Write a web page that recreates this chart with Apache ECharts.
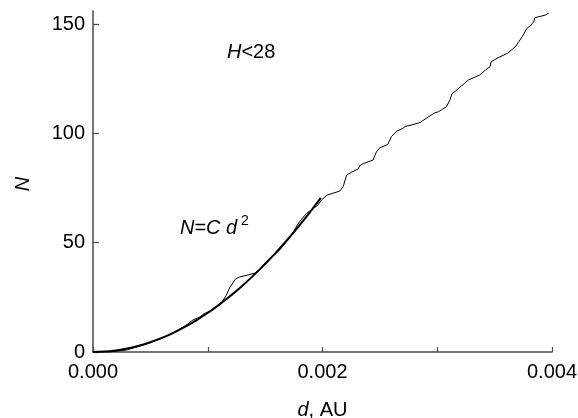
<!DOCTYPE html>
<html>
<head>
<meta charset="utf-8">
<script src="https://cdn.jsdelivr.net/npm/echarts@6/dist/echarts.min.js"></script>
<style>
  html, body { margin: 0; padding: 0; background: #fff; }
  #chart { width: 578px; height: 418px; }
</style>
</head>
<body>
<div id="chart"></div>
<script>
// distances d in units of 10^-3 AU
const obsD = [0, 0.15, 0.29, 0.45, 0.6, 0.72, 0.81, 0.87, 0.93, 0.97, 1.02, 1.07, 1.12, 1.16, 1.19, 1.24, 1.28, 1.35, 1.41, 1.45,
  1.51, 1.57, 1.63, 1.66, 1.72, 1.78, 1.80, 1.86, 1.92, 1.96, 1.99, 2.04, 2.05, 2.15, 2.18, 2.21, 2.25, 2.31, 2.33, 2.36,
  2.44, 2.47, 2.50, 2.57, 2.60, 2.65, 2.70, 2.72, 2.78, 2.85, 2.97, 3.01, 3.08, 3.11, 3.13, 3.16, 3.20, 3.27, 3.37, 3.42,
  3.46, 3.47, 3.53, 3.61, 3.68, 3.71, 3.74, 3.78, 3.81, 3.84, 3.85, 3.94, 3.97]
const obsN = [0, 0.1, 0.9, 3.4, 6.3, 9.4, 12.2, 14.6, 16.0, 17.6, 18.6, 20.6, 22.6, 25.8, 29.3, 33.3, 34.4, 35.2, 36.1, 37.6,
  41.3, 44.0, 46.8, 48.9, 52.7, 58.0, 59.6, 63.4, 65.7, 67.2, 69.5, 71.8, 72.4, 73.6, 75.6, 80.9, 82.2, 83.7, 85.5, 86.3,
  87.8, 91.6, 93.4, 95.0, 98.5, 101.1, 102.3, 103.2, 103.9, 105.0, 109.2, 109.9, 112.2, 115.2, 118.3, 119.4, 121.2, 124.4, 126.7, 129.0,
  130.5, 132.8, 134.6, 136.6, 139.6, 141.9, 144.2, 148.0, 149.2, 151.0, 152.9, 154.1, 155.0]

// fitted curve N = C d^2
const fitD = [0, 0.1, 0.2, 0.3, 0.4, 0.5, 0.6, 0.7, 0.8, 0.9, 1.0, 1.1, 1.2, 1.3, 1.4, 1.5, 1.6, 1.7, 1.8, 1.9, 1.985]
const fitN = [0, 0.18, 0.72, 1.61, 2.86, 4.48, 6.44, 8.77, 11.46, 14.5, 17.9, 21.66, 25.78, 30.25, 35.08, 40.28, 45.82, 51.73, 58.0, 64.62, 70.53]

const xTickLabels = [0, 2, 4]
const yTickLabels = [0, 50, 100, 150]

const font = 'Liberation Sans, Arial, sans-serif'
const axisColor = '#4a4a4a'

const chart = echarts.init(document.getElementById('chart'))

chart.setOption({
  animation: false,
  backgroundColor: '#fff',
  grid: { left: 93, right: 26, top: 11, bottom: 66, outerBoundsMode: 'none' },
  xAxis: {
    type: 'value',
    min: 0,
    max: 4,
    interval: 1,
    splitLine: { show: false },
    axisLine: { lineStyle: { color: axisColor, width: 1.5 } },
    axisTick: { inside: true, length: 5, lineStyle: { color: axisColor, width: 1.2 } },
    axisLabel: {
      customValues: xTickLabels,
      formatter: v => (v / 1000).toFixed(3),
      color: '#000',
      fontSize: 20,
      fontFamily: font,
      margin: 10
    },
    name: '{i|d}, AU',
    nameLocation: 'middle',
    nameGap: 48,
    nameTextStyle: {
      color: '#000',
      fontSize: 20,
      fontFamily: font,
      rich: { i: { fontStyle: 'italic', fontSize: 20, fontFamily: font, color: '#000' } }
    }
  },
  yAxis: {
    type: 'value',
    min: 0,
    max: 156,
    interval: 50,
    splitLine: { show: false },
    axisLine: { lineStyle: { color: axisColor, width: 1.5 } },
    axisTick: { inside: true, length: 6, customValues: yTickLabels, lineStyle: { color: axisColor, width: 1.2 } },
    axisLabel: {
      customValues: yTickLabels,
      color: '#000',
      fontSize: 20,
      fontFamily: font,
      margin: 8
    },
    name: 'N',
    nameLocation: 'middle',
    nameGap: 60,
    nameTextStyle: { color: '#000', fontSize: 20, fontFamily: font, fontStyle: 'italic', padding: [0, 5, 0, 0] }
  },
  graphic: [
    {
      type: 'text',
      style: {
        x: 227, y: 52,
        text: '{i|H}<28',
        textVerticalAlign: 'middle',
        font: '20px ' + font,
        fill: '#000',
        rich: { i: { fontStyle: 'italic', fontSize: 20, fontFamily: font } }
      }
    },
    {
      type: 'text',
      style: {
        x: 180, y: 228,
        text: '{i|N}={i|C} {i|d}',
        textVerticalAlign: 'middle',
        font: '20px ' + font,
        fill: '#000',
        rich: { i: { fontStyle: 'italic', fontSize: 20, fontFamily: font } }
      }
    },
    {
      type: 'text',
      style: {
        x: 241, y: 221,
        text: '2',
        textVerticalAlign: 'middle',
        font: '14px ' + font,
        fill: '#000'
      }
    }
  ],
  series: [
    {
      type: 'line',
      symbol: 'none',
      data: obsD.map((d, i) => [d, obsN[i]]),
      lineStyle: { color: '#000', width: 1 }
    },
    {
      type: 'line',
      symbol: 'none',
      smooth: true,
      data: fitD.map((d, i) => [d, fitN[i]]),
      lineStyle: { color: '#000', width: 2 }
    }
  ]
})
</script>
</body>
</html>
